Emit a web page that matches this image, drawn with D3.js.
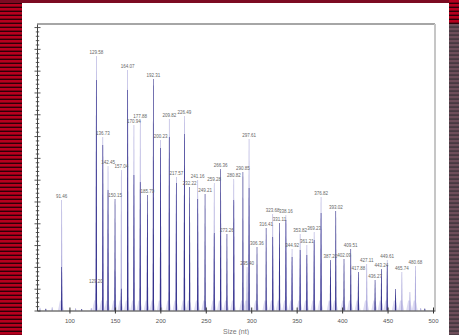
<!DOCTYPE html>
<html><head><meta charset="utf-8">
<script src="https://cdn.jsdelivr.net/npm/d3@7/dist/d3.min.js"></script>
<style>html,body{margin:0;padding:0;background:#fff;overflow:hidden}svg{display:block}</style>
</head><body><svg id="chart" width="459" height="335"></svg>
<script>
// Fragment sizes (nt) of the called peaks, with peak heights (RFU) of the two traces
const sizes = [91.46, 129.20, 129.58, 136.73, 142.45, 150.15, 157.04, 164.07, 170.94, 177.88,
  185.79, 192.31, 200.23, 209.82, 217.57, 226.49, 232.22, 241.16, 249.21, 259.28,
  266.36, 273.26, 280.82, 290.85, 295.40, 297.61, 306.36, 316.41, 323.68, 331.11,
  338.16, 344.92, 353.82, 361.21, 369.23, 376.82, 387.20, 393.02, 402.09, 409.51,
  417.88, 427.11, 436.27, 443.24, 449.61, 465.74, 480.68];
const lightRFU = [5070, 1170, 11670, 7960, 6630, 1800, 6440, 11030, 8510, 8740,
  4380, 2500, 7820, 8780, 6120, 8920, null, 5990, null, 5850,
  null, null, 6030, null, 2000, 7870, null, null, 4430, null,
  4380, 2820, 3510, 3000, 3600, 5210, null, null, null, null,
  null, 2130, null, null, 2320, 1770, 2040];
const darkRFU = [2000, null, 10570, 7590, 5530, 5110, 1000, 10110, 6220, 5890,
  5300, 10620, 7450, 7960, 5850, 8100, 5660, 5110, 5340, 3550,
  6490, 3510, 5070, 6350, null, 5620, 2910, 3780, 3370, 4010,
  4150, 2450, 2780, 2550, 3230, 4470, 2320, 4560, 2360, 2820,
  1770, null, 1400, 1900, 2090, null, null];

// Uncalled peaks and baseline noise
const otherSizes = [458.80, 474.60, 67.6, 74.0, 81.0, 106.8, 113.5, 124.0, 486.5, 491.0];
const otherLight = [null, 850, 130, null, 150, 100, null, 120, 110, null];
const otherDark  = [990, null, null, 80, null, null, 70, null, null, 90];

const xTicks = [100, 150, 200, 250, 300, 350, 400, 450, 500];
const xTitle = "Size (nt)";

const svg = d3.select("#chart");
const defs = svg.append("defs");

function stripes(id, a, b, period, split) {
  const p = defs.append("pattern").attr("id", id)
    .attr("patternUnits", "userSpaceOnUse").attr("width", 8).attr("height", period);
  p.append("rect").attr("width", 8).attr("height", period).attr("fill", b);
  p.append("rect").attr("width", 8).attr("height", split).attr("fill", a);
}
stripes("redStripe", "#b6001e", "#2c0008", 4, 2.6);
stripes("greyStripe", "#6e4e5a", "#473941", 4, 2.2);

// page frame
svg.append("rect").attr("x", 0).attr("y", 0).attr("width", 22).attr("height", 335).attr("fill", "url(#redStripe)");
svg.append("rect").attr("x", 0).attr("y", 0).attr("width", 459).attr("height", 3).attr("fill", "#7c0a22");
svg.append("rect").attr("x", 449).attr("y", 0).attr("width", 10).attr("height", 24).attr("fill", "url(#redStripe)");
svg.append("rect").attr("x", 449).attr("y", 24).attr("width", 10).attr("height", 311).attr("fill", "url(#greyStripe)");

const x = d3.scaleLinear().domain([64.3, 502.2]).range([37, 435]);
const y = d3.scaleLinear().domain([0, 13140]).range([310.5, 24]);

// plot border
svg.append("line").attr("x1", 37).attr("x2", 435).attr("y1", 24).attr("y2", 24)
  .attr("stroke", "#4e4e4e").attr("stroke-width", 1.2);
svg.append("line").attr("x1", 435).attr("x2", 435).attr("y1", 24).attr("y2", y(0))
  .attr("stroke", "#c6c6c6").attr("stroke-width", 2);

const colLight = "#aeabdc", colDark = "#36338d", colFoot = "#dddbf3";

function peakPath(s, v, half, top) {
  const cx = x(s), b = y(0), t = y(v);
  return `M${cx - half},${b}L${cx - top},${t}L${cx + top},${t}L${cx + half},${b}Z`;
}
function footPath(s, v) {
  const cx = x(s), b = y(0), t = Math.max(y(v), b - 10);
  return `M${cx - 3},${b}L${cx - 1},${t}L${cx + 1},${t}L${cx + 3},${b}Z`;
}

const peaks = sizes.map((s, i) => ({ s, l: lightRFU[i], d: darkRFU[i] }));
const others = otherSizes.map((s, i) => ({ s, l: otherLight[i], d: otherDark[i] }));
const all = peaks.concat(others);

const gFoot = svg.append("g");
gFoot.selectAll("path").data(all.filter(p => Math.max(p.l || 0, p.d || 0) > 600)).join("path")
  .attr("d", p => footPath(p.s - 0.8, Math.max(p.l || 0, p.d || 0)))
  .attr("fill", colFoot);

const gLight = svg.append("g");
gLight.selectAll("path").data(all.filter(p => p.l != null)).join("path")
  .attr("d", p => peakPath(p.s, p.l, 0.75, 0.3)).attr("fill", colLight);

const gDark = svg.append("g");
gDark.selectAll("path").data(all.filter(p => p.d != null)).join("path")
  .attr("d", p => peakPath(p.s, p.d, 0.7, 0.3)).attr("fill", colDark);

// peak size calls
svg.append("g").selectAll("text").data(peaks).join("text")
  .attr("x", p => x(p.s))
  .attr("y", p => y(Math.max(p.l || 0, p.d || 0)) - 2)
  .attr("text-anchor", "middle")
  .attr("font-family", "Liberation Sans, Arial, sans-serif")
  .attr("font-size", 4.5).attr("fill", "#666")
  .text(p => p.s.toFixed(2));

// x axis
const xAxis = svg.append("g").attr("transform", `translate(0,${y(0)})`)
  .call(d3.axisBottom(x).tickValues(xTicks).tickSize(3).tickSizeOuter(0));
xAxis.select(".domain").attr("stroke", "#333").attr("stroke-width", 1.2);
xAxis.selectAll(".tick line").attr("y1", -3).attr("y2", 3).attr("stroke", "#333");
xAxis.selectAll(".tick text").attr("y", 12.5).attr("dy", null)
  .attr("font-family", "Liberation Sans, Arial, sans-serif").attr("font-size", 6).attr("fill", "#555");

svg.append("text").attr("x", 236).attr("y", 333.5).attr("text-anchor", "middle")
  .attr("font-family", "Liberation Sans, Arial, sans-serif").attr("font-size", 7).attr("fill", "#777")
  .text(xTitle);

// y axis: unlabeled major and minor ticks
const yMinor = d3.range(0, 13141, 200);
const yAxis = svg.append("g").attr("transform", "translate(37,0)")
  .call(d3.axisLeft(y).tickValues(yMinor).tickFormat("").tickSizeOuter(0));
yAxis.select(".domain").attr("stroke", "#444").attr("stroke-width", 1);
yAxis.selectAll(".tick line")
  .attr("x1", d => d % 1000 === 0 ? -2.5 : -1.2)
  .attr("x2", d => d % 1000 === 0 ? 3.5 : 2.2)
  .attr("stroke", "#444").attr("stroke-width", 0.9);
</script></body></html>
